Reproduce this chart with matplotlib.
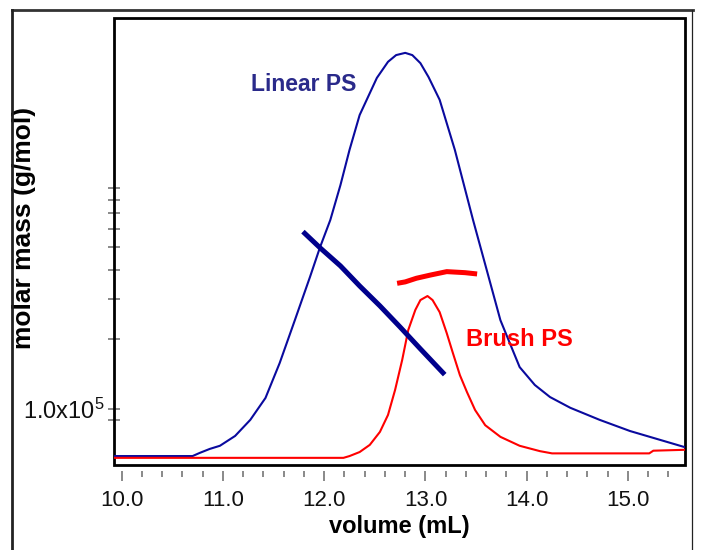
import matplotlib
matplotlib.use("Agg")
import matplotlib.pyplot as plt
from matplotlib.lines import Line2D
from matplotlib.patches import Rectangle
import numpy as np

plt.rcParams['font.family'] = ['Liberation Sans', 'DejaVu Sans']
plt.rcParams['mathtext.fontset'] = 'custom'
plt.rcParams['mathtext.rm'] = 'Liberation Sans'
plt.rcParams['mathtext.it'] = 'Liberation Sans'

# ---- data ----
# detector signal, arbitrary units (0-100)
linear_vol = [9.92, 10.70, 10.77, 10.87, 10.97, 11.12, 11.27, 11.42, 11.56, 11.71,
              11.86, 11.96, 12.06, 12.16, 12.25, 12.35, 12.52, 12.63, 12.71, 12.80,
              12.87, 12.95, 13.03, 13.14, 13.29, 13.47, 13.61, 13.74, 13.93, 14.08,
              14.23, 14.43, 14.72, 15.02, 15.32, 15.56]
linear_sig = [2.0, 2.0, 2.7, 3.6, 4.3, 6.5, 10.1, 15.0, 22.8, 32.4,
              42.1, 48.8, 54.8, 62.6, 70.5, 78.3, 86.6, 90.2, 91.7, 92.2,
              91.7, 89.9, 86.8, 81.7, 70.5, 54.8, 43.2, 32.4, 21.9, 17.9,
              15.2, 12.8, 10.1, 7.6, 5.6, 4.0]

brush_vol = [9.92, 12.19, 12.25, 12.35, 12.45, 12.55, 12.63, 12.70, 12.77, 12.83,
             12.90, 12.95, 13.02, 13.07, 13.14, 13.21, 13.27, 13.34, 13.41, 13.49,
             13.59, 13.74, 13.93, 14.13, 14.25, 15.21, 15.25, 15.56]
brush_sig = [1.6, 1.6, 2.0, 2.9, 4.5, 7.4, 11.2, 16.8, 23.5, 30.2,
             34.7, 36.9, 37.8, 36.9, 34.2, 29.5, 25.1, 20.1, 16.3, 12.3,
             8.9, 6.3, 4.3, 3.1, 2.6, 2.6, 3.2, 3.4]

# molar mass (g/mol)
linear_mm_vol = [11.79, 11.96, 12.16, 12.35, 12.55, 12.75, 12.95, 13.19]
linear_mm = [5.83e5, 4.96e5, 4.15e5, 3.40e5, 2.79e5, 2.26e5, 1.82e5, 1.41e5]

brush_mm_vol = [12.72, 12.80, 12.91, 13.05, 13.21, 13.39, 13.51]
brush_mm = [3.49e5, 3.54e5, 3.67e5, 3.79e5, 3.92e5, 3.88e5, 3.83e5]

x_major = [10.0, 11.0, 12.0, 13.0, 14.0, 15.0]
x_labels = ["10.0", "11.0", "12.0", "13.0", "14.0", "15.0"]
y_ticks = [9e4, 1e5, 2e5, 3e5, 4e5, 5e5, 6e5, 7e5, 8e5, 9e5]
y_labels = ["", "1.0x10$^{\\mathregular{5}}$", "", "", "", "", "", "", "", ""]

blue = '#0a0a9e'
navy = '#00008c'
red = '#ff0000'
text_blue = '#2a2a8a'

fig = plt.figure(figsize=(7.09, 5.5), dpi=100)
ax = fig.add_axes([114/709, 1-465/550, (685-114)/709, (465-18)/550])

ax.set_yscale('log')
ax.set_xlim(9.924, 15.563)
ax.set_ylim(5.75e4, 4.86e6)

# signal axis
ax2 = ax.twinx()
ax2.set_ylim(0, 100)
ax2.set_yticks([])
for s in ax2.spines.values():
    s.set_visible(False)

ax2.plot(linear_vol, linear_sig, color=blue, lw=1.5, zorder=3)
ax2.plot(brush_vol, brush_sig, color=red, lw=1.5, zorder=3)

# molar mass lines on log axis (drawn on top)
ax3 = ax.twinx()
ax3.set_yscale('log')
ax3.set_ylim(ax.get_ylim())
ax3.set_yticks([])
ax3.yaxis.set_minor_locator(matplotlib.ticker.NullLocator())
for s in ax3.spines.values():
    s.set_visible(False)
ax3.plot(linear_mm_vol, linear_mm, color=navy, lw=3.6, solid_capstyle='butt', zorder=4)
ax3.plot(brush_mm_vol, brush_mm, color=red, lw=3.6, solid_capstyle='butt', zorder=4)

ax2.text(11.80, 85.2, "Linear PS", color=text_blue, fontsize=16.5, fontweight='bold',
         ha='center', va='center')
ax2.text(13.925, 28.0, "Brush PS", color=red, fontsize=17, fontweight='bold',
         ha='center', va='center')

# ticks
ax.set_xticks(x_major)
ax.set_xticklabels(x_labels)
ax.set_xticks(np.arange(10.2, 15.5, 0.2), minor=True)
ax.set_yticks(y_ticks)
ax.set_yticklabels(y_labels)
ax.yaxis.set_minor_locator(matplotlib.ticker.NullLocator())
ax.yaxis.set_minor_formatter(matplotlib.ticker.NullFormatter())

for s in ax.spines.values():
    s.set_visible(False)
ax.spines['bottom'].set_position(('outward', 4))
ax.add_patch(Rectangle((0, 0), 1, 1, transform=ax.transAxes, fill=False,
                       edgecolor='black', lw=2.0, clip_on=False, zorder=5))

ax.tick_params(axis='x', which='major', direction='out', length=7, width=1.3,
               color='#808080', labelsize=16, pad=7, labelcolor='#111111')
ax.tick_params(axis='x', which='minor', direction='out', length=4, width=1.3,
               color='#808080')
ax.tick_params(axis='y', which='major', direction='inout', length=9, width=1.3,
               color='#808080', labelsize=17, pad=2, labelcolor='#111111')

ax.set_xlabel("volume (mL)", fontsize=17, fontweight='bold', labelpad=3)
ax.set_ylabel("molar mass (g/mol)", fontsize=19, fontweight='bold')
ax.yaxis.set_label_coords(-0.1366, 0.53)

# outer frame of the figure
fig.add_artist(Line2D([12/709, 693/709], [1-10/550, 1-10/550], color='#333333', lw=2.0))
fig.add_artist(Line2D([12/709, 12/709], [0, 1-10/550], color='#222222', lw=2.0))
fig.add_artist(Line2D([692/709, 692/709], [0, 1-10/550], color='#222222', lw=0.9))

fig.savefig("out.png", dpi=100)
